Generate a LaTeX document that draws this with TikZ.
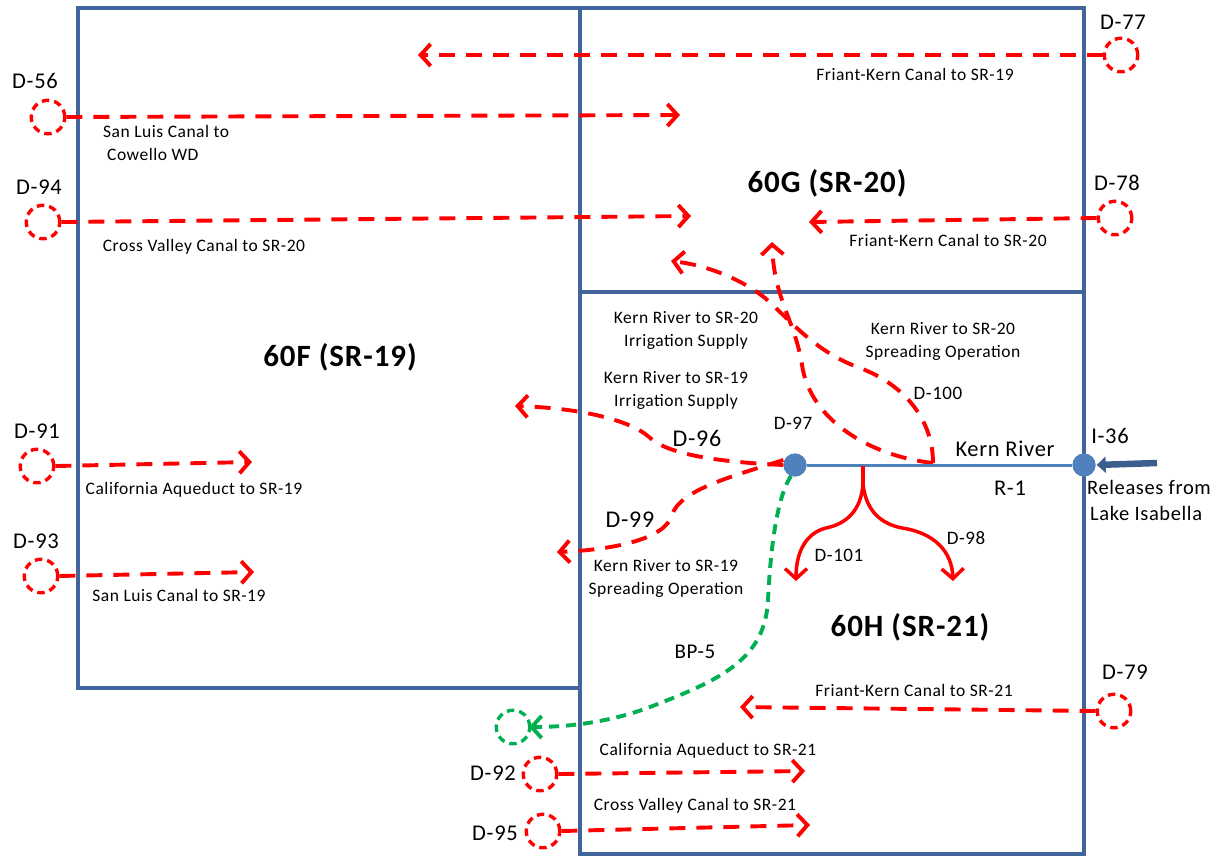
\documentclass[tikz,border=0pt]{standalone}
\usepackage{fontspec}
\setmainfont{Carlito}[LetterSpace=3]
\usetikzlibrary{arrows.meta}
\definecolor{boxblue}{HTML}{41659A}
\definecolor{riverblue}{HTML}{4F81BD}
\definecolor{darkarrow}{HTML}{3B5E8C}
\definecolor{flowred}{HTML}{FF0000}
\definecolor{bpgreen}{HTML}{00B050}
\begin{document}
\begin{tikzpicture}[x=1pt,y=-1pt,
  zone/.style={draw=boxblue,line width=3.8pt},
  flow/.style={draw=flowred,line width=3.9pt,dash pattern=on 16pt off 11pt,-{Straight Barb[length=10pt,width=22pt]}},
  solidflow/.style={draw=flowred,line width=3.5pt,-{Straight Barb[length=10pt,width=22pt]}},
  bpflow/.style={draw=bpgreen,line width=3.9pt,dash pattern=on 10pt off 7pt,-{Straight Barb[length=10pt,width=22pt]}},
  gate/.style={circle,draw=flowred,line width=3.4pt,dash pattern=on 7.5pt off 5pt,minimum size=33.5pt,inner sep=0pt},
  bpgate/.style={gate,draw=bpgreen},
  junction/.style={circle,fill=riverblue,minimum size=23pt,inner sep=0pt},
  small/.style={font=\fontsize{17.5}{23}\selectfont,align=center,inner sep=0pt},
  mid/.style={font=\fontsize{20.5}{26}\selectfont,align=left,inner sep=0pt},
  tag/.style={font=\fontsize{22.5}{24}\selectfont,inner sep=0pt},
  midtag/.style={font=\fontsize{19}{20}\selectfont,inner sep=0pt},
  bigtag/.style={font=\fontsize{24}{28}\selectfont,inner sep=0pt},
  title/.style={font=\fontsize{31}{34}\selectfont\bfseries,inner sep=0pt}]
\useasboundingbox (0,0) rectangle (1225,857);

% zones
\draw[zone] (78,8) rectangle (580,688);
\draw[zone] (580,8) rectangle (1084,292);
\draw[zone] (580,292) rectangle (1084,854);
\node[title] (t60f) at (340,357) {60F (SR-19)};
\node[title] (t60g) at (827,183) {60G (SR-20)};
\node[title] (t60h) at (910,627) {60H (SR-21)};

% gates
\node[gate] (d77) at (1121,55) {};
\node[gate] (d56) at (48,117) {};
\node[gate] (d94) at (43,222) {};
\node[gate] (d78) at (1115,218) {};
\node[gate] (d91) at (37,466) {};
\node[gate] (d93) at (41,576) {};
\node[gate] (d79) at (1114,711) {};
\node[gate] (d92) at (540,774) {};
\node[gate] (d95) at (543,831) {};
\node[bpgate] (bp) at (513,727) {};

% gate labels
\node[tag] (l77) at (1123,22) {D-77};
\node[tag] (l56) at (35,81) {D-56};
\node[tag] (l94) at (39,187) {D-94};
\node[tag] (l78) at (1117,183) {D-78};
\node[tag] (l91) at (37,431) {D-91};
\node[tag] (l93) at (36,541) {D-93};
\node[tag] (l79) at (1125,672) {D-79};
\node[tag] (l92) at (493,773) {D-92};
\node[tag] (l95) at (495,833) {D-95};

% straight flow ends
\coordinate (e77) at (418,55);
\coordinate (e56) at (680,115);
\coordinate (e94) at (691,216);
\coordinate (e78) at (809,222);
\coordinate (e91) at (252,462);
\coordinate (e93) at (254,572);
\coordinate (e79) at (740,707);
\coordinate (e92) at (805,771);
\coordinate (e95) at (810,825);

\draw[flow] (d77.west) -- (e77);
\draw[flow] (d56.east) -- (e56);
\draw[flow] (d94.east) -- (e94);
\draw[flow] (d78.west) -- (e78);
\draw[flow] (d91.east) -- (e91);
\draw[flow] (d93.east) -- (e93);
\draw[flow] (d79.west) -- (e79);
\draw[flow] (d92.east) -- (e92);
\draw[flow] (d95.east) -- (e95);

% flow labels
\node[small] (f77) at (915,74) {Friant-Kern Canal to SR-19};
\node[small,align=left,anchor=west] (f56) at (103,143) {San Luis Canal to\\\hspace*{4pt}Cowello WD};
\node[small] (f94) at (204,247) {Cross Valley Canal to SR-20};
\node[small] (f78) at (948,240) {Friant-Kern Canal to SR-20};
\node[small] (f91) at (194,490) {California Aqueduct to SR-19};
\node[small] (f93) at (179,595) {San Luis Canal to SR-19};
\node[small] (f79) at (914,690) {Friant-Kern Canal to SR-21};
\node[small] (f92) at (708,751) {California Aqueduct to SR-21};
\node[small] (f95) at (695,806) {Cross Valley Canal to SR-21};

% river nodes
\node[junction] (d97) at (795,465) {};
\node[junction] (i36) at (1084,465) {};
\coordinate (k100) at (933,463);
\coordinate (kfork) at (863,466);
\coordinate (kstem) at (863,484);
\coordinate (rel) at (1157,463);

% kern river dashed diversions
\coordinate (e96) at (515,406);
\coordinate (e99) at (557,552);
\coordinate (e20i) at (772,242);
\coordinate (e20s) at (671,261);
\coordinate (ebp) at (529,727);
\draw[flow] (d97.west) .. controls (720,462) and (668,455) .. (649,437)
  .. controls (630,420) and (580,408) .. (e96);
\draw[flow] ([yshift=5pt]d97.west) .. controls (730,477) and (680,490) .. (672,515)
  .. controls (665,540) and (610,550) .. (e99);
\draw[flow] (k100) .. controls (870,456) and (810,420) .. (802,365)
  .. controls (795,320) and (774,300) .. (e20i);
\draw[flow] (k100) .. controls (933,420) and (905,385) .. (860,368)
  .. controls (815,352) and (790,320) .. (765,298)
  .. controls (740,278) and (705,265) .. (e20s);
\draw[bpflow] (d97.250) .. controls (775,500) and (770,560) .. (768,600)
  .. controls (765,660) and (720,680) .. (650,707)
  .. controls (610,722) and (570,727) .. (ebp);

% river
\draw[riverblue,line width=3pt] (d97) -- (i36);
\node[junction] at (d97) {};
\node[junction] at (i36) {};
\draw[darkarrow,line width=6.5pt,-{Triangle[length=9pt,width=16pt]},shorten >=1pt] (rel) -- (i36.east);

% solid diversions
\coordinate (e101) at (796,581);
\coordinate (e98) at (953,581);
\draw[flowred,line width=3.5pt] (kfork) -- (kstem);
\draw[solidflow] (kstem) .. controls (861,512) and (845,524) .. (826,528)
  .. controls (806,533) and (796,552) .. (e101);
\draw[solidflow] (kstem) .. controls (866,512) and (882,524) .. (902,528)
  .. controls (935,533) and (952,552) .. (e98);

% central labels
\node[small] (k20i) at (686,330) {Kern River to SR-20\\Irrigation Supply};
\node[small] (k20s) at (943,341) {Kern River to SR-20\\Spreading Operation};
\node[small] (k19i) at (676,390) {Kern River to SR-19\\Irrigation Supply};
\node[small] (k19s) at (666,578) {Kern River to SR-19\\Spreading Operation};
\node[midtag] (l100) at (938,393) {D-100};
\node[midtag] (l97) at (793,423) {D-97};
\node[bigtag] (l96) at (697,438) {D-96};
\node[bigtag] (l99) at (630,520) {D-99};
\node[midtag] (l101) at (839,555) {D-101};
\node[midtag] (l98) at (966,538) {D-98};
\node[font=\fontsize{21}{22}\selectfont,inner sep=0pt] (lbp) at (695,652) {BP-5};
\node[tag] (lkern) at (1005,449) {Kern\ River};
\node[tag] (lr1) at (1010,488) {R-1};
\node[tag] (li36) at (1110,436) {I-36};
\node[mid,anchor=west] (lrel) at (1087,500) {Releases from\\\hspace*{3pt}Lake Isabella};
\end{tikzpicture}
\end{document}
